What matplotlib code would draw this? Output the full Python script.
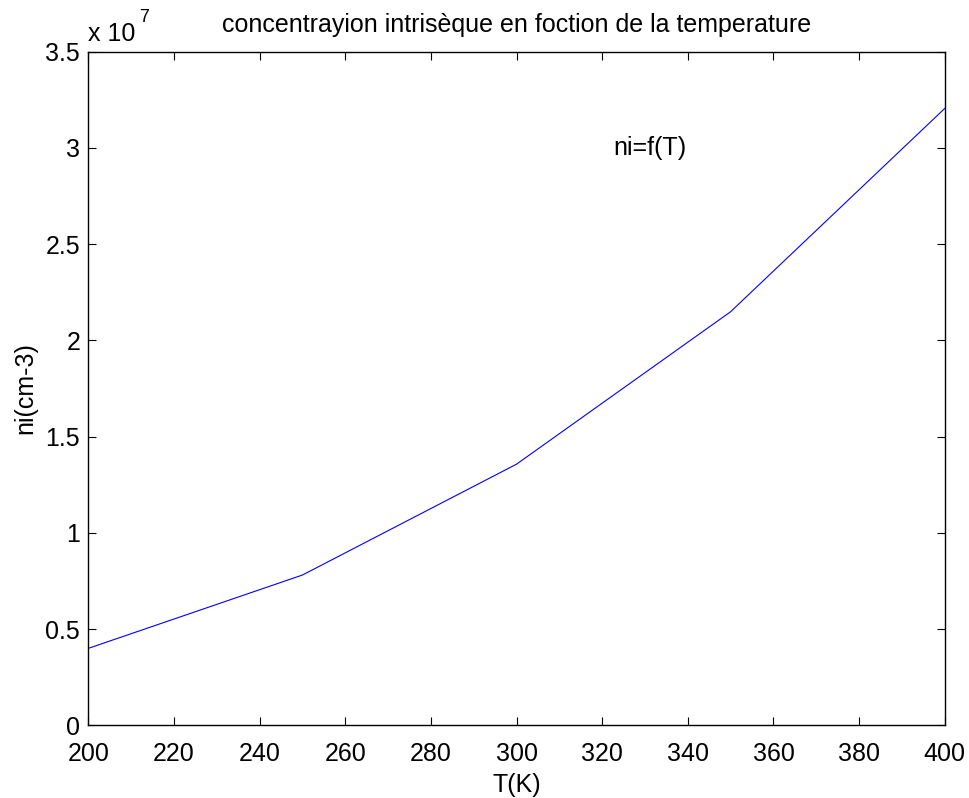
import numpy as np
import matplotlib.pyplot as plt
from matplotlib.ticker import FuncFormatter

# temperature (K) and intrinsic concentration (cm-3)
T = [200, 250, 300, 350, 400]
ni = [0.40e7, 0.781e7, 1.357e7, 2.149e7, 3.205e7]

xticks = np.arange(200, 401, 20)
yticks = np.arange(0, 3.51e7, 0.5e7)

plt.rcParams['font.family'] = ['Liberation Sans', 'DejaVu Sans']
fs = 18

fig = plt.figure(figsize=(9.7, 7.98), dpi=100)
ax = fig.add_axes([0.0912, 0.0911, 0.8827, 0.8441])

ax.plot(T, ni, color=(0, 0, 1), linewidth=0.8)

ax.set_xlim(200, 400)
ax.set_ylim(0, 3.5e7)
ax.set_xticks(xticks)
ax.set_yticks(yticks)
ax.yaxis.set_major_formatter(FuncFormatter(lambda v, p: f"{v/1e7:g}"))
ax.tick_params(direction='in', top=True, right=True, length=6, width=0.8,
               labelsize=fs)
ax.tick_params(axis='x', pad=12)
ax.tick_params(axis='y', pad=6)
for s in ax.spines.values():
    s.set_linewidth(1.0)

# multiplier above y axis
fig.text(0.0912, 0.957, "x 10", fontsize=fs, ha='left', va='center')
fig.text(0.1435, 0.978, "7", fontsize=13, ha='left', va='center')

ax.set_title("concentrayion intrisèque en foction de la temperature",
             fontsize=fs, pad=14)
ax.set_xlabel("T(K)", fontsize=fs, labelpad=5)
ax.set_ylabel("ni(cm-3)", fontsize=fs, labelpad=6)

ax.text(322.5, 3.0e7, "ni=f(T)", fontsize=fs, ha='left', va='center')

fig.savefig("out.png", dpi=100)
